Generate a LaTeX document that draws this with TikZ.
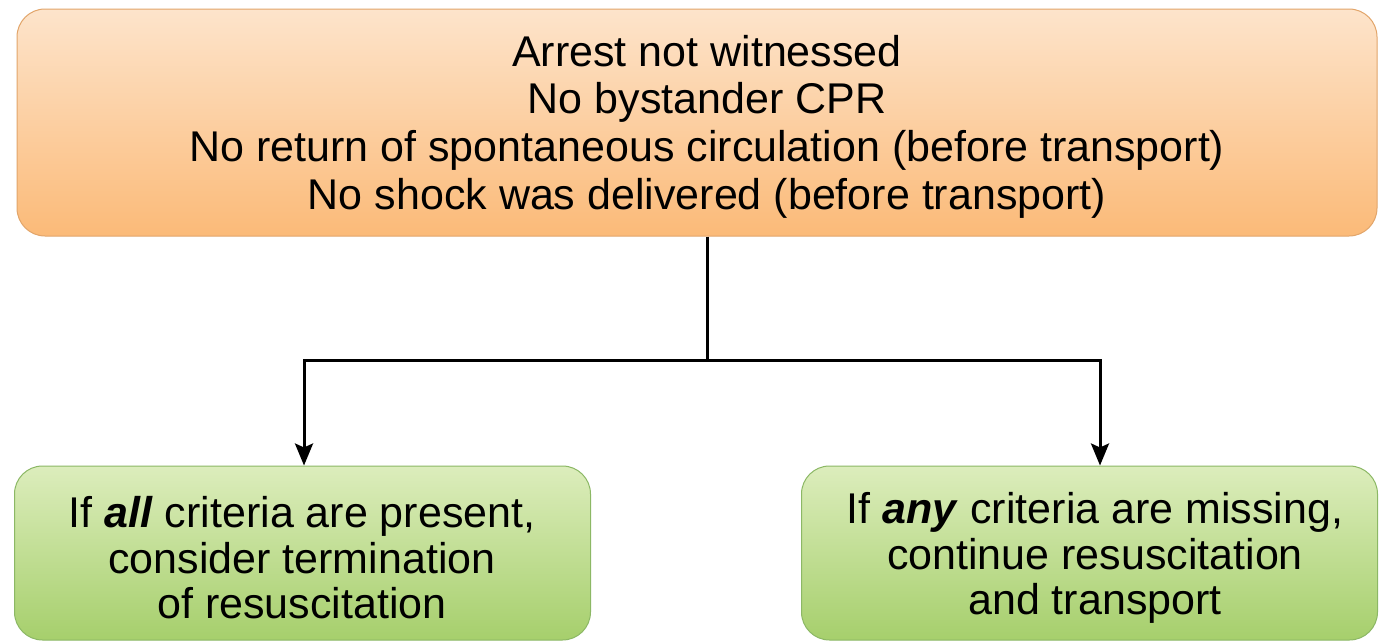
\documentclass[tikz,border=0pt]{standalone}
\usepackage{fontspec}
\setmainfont{Liberation Sans}
\usetikzlibrary{arrows.meta}
\begin{document}
\begin{tikzpicture}[x=1pt,y=-1pt,
  topbox/.style={draw=orBorder, line width=1pt, rounded corners=28pt,
    top color=orTop, bottom color=orBot, minimum width=1360pt, minimum height=227pt,
    align=center, font=\fontsize{43}{47.7}\selectfont, inner sep=0pt},
  greenbox/.style={draw=grBorder, line width=1pt, rounded corners=28pt,
    top color=grTop, bottom color=grBot, minimum width=576pt, minimum height=174pt,
    align=center, font=\fontsize{43}{45.5}\selectfont, inner sep=0pt},
  boxtext/.style={align=center, inner sep=0pt},
  conn/.style={line width=3pt, black},
  arr/.style={conn, -{Stealth[length=22pt,width=18pt,inset=4pt]}}
]
\definecolor{orTop}{HTML}{FDE4CB}
\definecolor{orBot}{HTML}{FBBA78}
\definecolor{orBorder}{HTML}{E2A56A}
\definecolor{grTop}{HTML}{DCEDBC}
\definecolor{grBot}{HTML}{A6CF6C}
\definecolor{grBorder}{HTML}{8CB865}
\useasboundingbox (0,0) rectangle (1379,643);
\fill[white] (0,0) rectangle (1379,643);
\node[topbox] (top) at (697,122.5) {};
\node[boxtext, font=\fontsize{43}{47.7}\selectfont] (toptext) at (707,126.5) {Arrest not witnessed\\No bystander CPR\\No return of spontaneous circulation (before transport)\\No shock was delivered (before transport)};
\node[greenbox] (left) at (302.5,553) {};
\node[boxtext, font=\fontsize{43}{45.5}\selectfont] (lefttext) at (302,558) {If \textbf{\textit{all}} criteria are present,\\consider termination\\of resuscitation};
\node[greenbox] (right) at (1089.5,553) {};
\node[boxtext, font=\fontsize{43}{45.5}\selectfont] (righttext) at (1095,558) {If \textbf{\textit{any}} criteria are missing,\\continue resuscitation\\and transport};
\coordinate (bus) at (707,360);
\coordinate (busL) at (304,360);
\coordinate (busR) at (1100,360);
\draw[conn] (top.south -| bus) -- (bus);
\draw[arr] (bus) -- (busL) -- (left.north -| busL);
\draw[arr] (bus) -- (busR) -- (right.north -| busR);
\end{tikzpicture}
\end{document}
